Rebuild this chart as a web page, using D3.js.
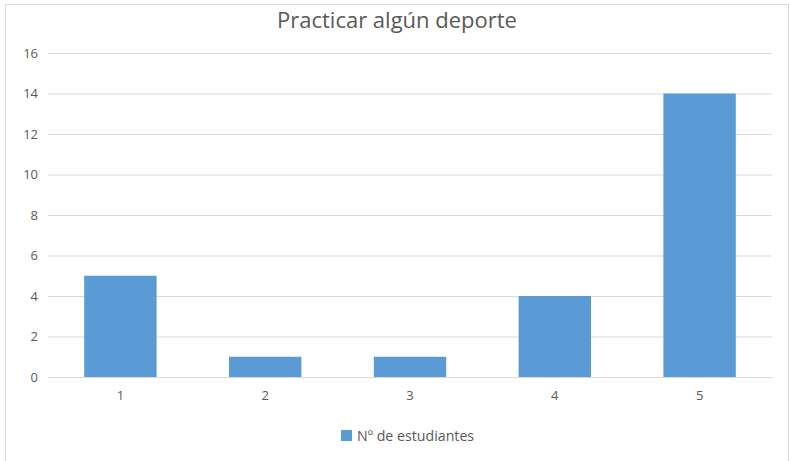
<!DOCTYPE html>
<html><head><meta charset="utf-8">
<script src="https://cdn.jsdelivr.net/npm/d3@7"></script>
<style>
html,body{margin:0;padding:0;background:#fff;}
svg{display:block;}
text{font-family:"Open Sans",Arial,sans-serif;fill:#595959;}
</style></head>
<body>
<svg id="chart" width="790" height="461"></svg>
<script>
const title = "Practicar algún deporte";
const categories = ["1","2","3","4","5"];
const values = [5,1,1,4,14];
const seriesName = "Nº de estudiantes";
const yTicks = [0,2,4,6,8,10,12,14,16];

const svg = d3.select("#chart");
const W = 790, H = 461;
const m = {left:48, right:18, top:53, bottom:84};

svg.append("rect").attr("x",5.5).attr("y",4.5).attr("width",783).attr("height",470)
  .attr("fill","#fff").attr("stroke","#d9d9d9").attr("stroke-width",1);

const x = d3.scaleBand().domain(categories).range([m.left, W-m.right]).paddingInner(0.5).paddingOuter(0.25);
const y = d3.scaleLinear().domain([0,16]).range([H-m.bottom, m.top]);

const yAxis = d3.axisLeft(y).tickValues(yTicks).tickSize(-(W-m.right-m.left)).tickPadding(10);
const gy = svg.append("g").attr("transform",`translate(${m.left},0)`).call(yAxis);
gy.select(".domain").remove();
gy.selectAll(".tick line").attr("stroke","#d9d9d9").attr("stroke-width",1);
gy.selectAll(".tick text").attr("font-size",13).style("fill","#595959");

svg.append("g").selectAll("rect").data(values).join("rect")
  .attr("x",(d,i)=>x(categories[i]))
  .attr("width",x.bandwidth())
  .attr("y",d=>y(d))
  .attr("height",d=>y(0)-y(d))
  .attr("fill","#5b9bd5");

const xAxis = d3.axisBottom(x).tickSize(0).tickPadding(14);
const gx = svg.append("g").attr("transform",`translate(0,${y(0)})`).call(xAxis);
gx.select(".domain").attr("stroke","#d9d9d9");
gx.selectAll(".tick text").attr("font-size",13).style("fill","#595959");

svg.append("text").attr("x",397).attr("y",28).attr("text-anchor","middle")
  .attr("font-size",22).text(title);

const lg = svg.append("g");
lg.append("rect").attr("x",341).attr("y",430).attr("width",11).attr("height",11).attr("fill","#5b9bd5");
lg.append("text").attr("x",357).attr("y",440.5).attr("font-size",14.2).text(seriesName);
</script>
</body></html>
